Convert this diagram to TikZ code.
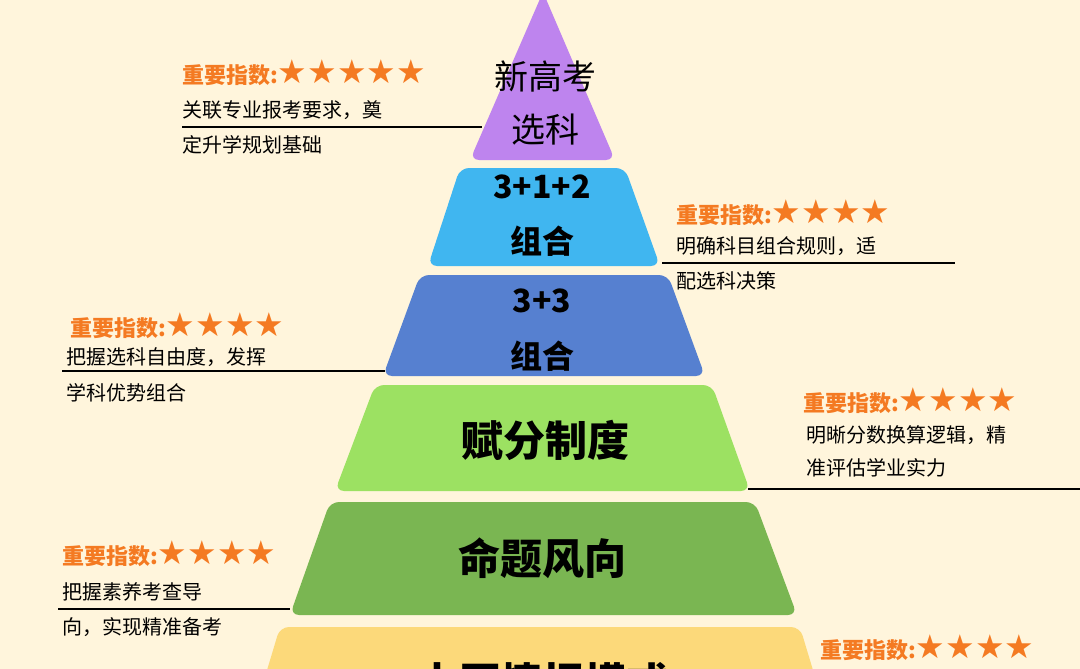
\documentclass[tikz,border=0pt]{standalone}
\usepackage{fontspec}
\setmainfont{Noto Sans CJK SC}
\newfontfamily\starfont{DejaVu Sans}
\newcommand\stars[1]{{\starfont\fontsize{33}{34}\selectfont\color{st}#1}}
\begin{document}
\begin{tikzpicture}[x=1pt,y=-1pt,
  layer/.style={rounded corners=9pt},
  ttl/.style={text=st,font=\fontsize{22}{24}\selectfont\bfseries,anchor=west,inner sep=0},
  body/.style={font=\fontsize{20}{22}\selectfont,anchor=west,inner sep=0},
  lbl/.style={font=\fontsize{34}{36}\selectfont,inner sep=0},
  lblb/.style={font=\fontsize{32}{34}\selectfont\bfseries,inner sep=0},
  big/.style={font=\fontsize{42}{44}\selectfont\bfseries,inner sep=0},
  lead/.style={line width=1.3pt}]
\definecolor{bg}{HTML}{FFF5DC}
\definecolor{st}{HTML}{F47A22}
\useasboundingbox (0,0) rectangle (1080,669);
\clip (0,0) rectangle (1080,669);
\fill[bg] (0,0) rectangle (1080,669);
\fill[layer,fill={rgb,255:red,190;green,132;blue,238}] (543,-8) -- (470,160) -- (615,160) -- cycle;
\fill[layer,fill={rgb,255:red,64;green,182;blue,240}] (460,168) -- (625,168) -- (660,266) -- (428,266) -- cycle;
\fill[layer,fill={rgb,255:red,86;green,128;blue,208}] (420,275) -- (668,275) -- (705,376) -- (383,376) -- cycle;
\fill[layer,fill={rgb,255:red,156;green,225;blue,98}] (375,385) -- (712,385) -- (750,491) -- (335,491) -- cycle;
\fill[layer,fill={rgb,255:red,122;green,182;blue,82}] (330,502) -- (755,502) -- (797,615) -- (290,615) -- cycle;
\fill[layer,fill={rgb,255:red,252;green,217;blue,122}] (280,627) -- (800,627) -- (840,760) -- (240,760) -- cycle;
\node[lbl] (l1a) at (545,76) {新高考};
\node[lbl] (l1b) at (545,130) {选科};
\node[lblb] (l2a) at (542,187) {3+1+2};
\node[lblb] (l2b) at (542,241) {组合};
\node[lblb] (l3a) at (542,301) {3+3};
\node[lblb] (l3b) at (542,356) {组合};
\node[big] (l4) at (545,440) {赋分制度};
\node[big] (l5) at (542,558) {命题风向};
\node[big] (l6) at (542,683) {本原情报模式};
\node[ttl] (a1) at (182,73) {重要指数:\stars{★★★★★}};
\node[body] (a2) at (182,110) {关联专业报考要求，奠};
\node[body] (a3) at (182,145) {定升学规划基础};
\coordinate (a4) at (182,127); \coordinate (a5) at (482,127);
\draw[lead] (a4) -- (a5);
\node[ttl] (b1) at (676,213) {重要指数:\stars{★★★★}};
\node[body] (b2) at (676,246) {明确科目组合规则，适};
\node[body] (b3) at (676,281) {配选科决策};
\coordinate (b4) at (662,263); \coordinate (b5) at (955,263);
\draw[lead] (b4) -- (b5);
\node[ttl] (c1) at (70,326) {重要指数:\stars{★★★★}};
\node[body] (c2) at (66,357) {把握选科自由度，发挥};
\node[body] (c3) at (66,393) {学科优势组合};
\coordinate (c4) at (62,371); \coordinate (c5) at (385,371);
\draw[lead] (c4) -- (c5);
\node[ttl] (d1) at (803,401) {重要指数:\stars{★★★★}};
\node[body] (d2) at (806,435) {明晰分数换算逻辑，精};
\node[body] (d3) at (806,468) {准评估学业实力};
\coordinate (d4) at (748,489); \coordinate (d5) at (1080,489);
\draw[lead] (d4) -- (d5);
\node[ttl] (e1) at (62,554) {重要指数:\stars{★★★★}};
\node[body] (e2) at (62,592) {把握素养考查导};
\node[body] (e3) at (62,627) {向，实现精准备考};
\coordinate (e4) at (58,609); \coordinate (e5) at (290,609);
\draw[lead] (e4) -- (e5);
\node[ttl] (f1) at (820,648) {重要指数:\stars{★★★★}};
\end{tikzpicture}
\end{document}
